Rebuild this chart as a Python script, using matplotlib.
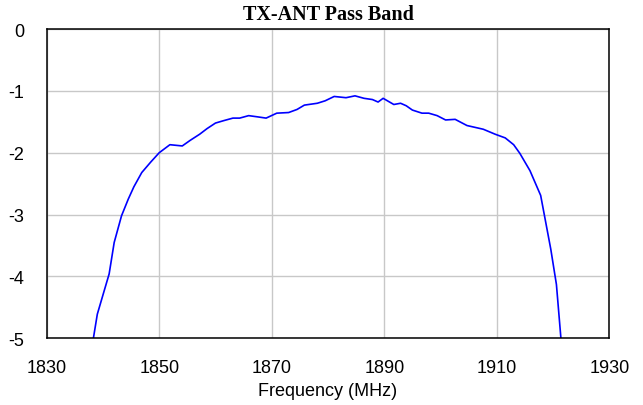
import matplotlib.pyplot as plt

plt.rcParams['axes.unicode_minus'] = False

freq = [1838.3, 1839.0, 1840.0, 1841.1, 1842.0, 1843.3, 1844.5, 1845.5, 1846.9,
        1848.5, 1850.0, 1851.9, 1853.0, 1854.1, 1855.5, 1857.2, 1858.5, 1860.0,
        1861.5, 1863.1, 1864.3, 1865.9, 1867.5, 1869.0, 1870.9, 1873.0, 1874.5,
        1875.8, 1878.1, 1879.5, 1881.1, 1883.2, 1884.8, 1886.4, 1887.9, 1888.9,
        1889.8, 1891.7, 1892.9, 1893.9, 1895.0, 1896.7, 1897.9, 1899.4, 1900.9,
        1902.6, 1904.7, 1907.6, 1909.7, 1911.5, 1913.0, 1914.1, 1915.9, 1917.8,
        1919.6, 1920.6, 1921.4]
loss = [-5.0, -4.61, -4.3, -3.96, -3.45, -3.02, -2.75, -2.55, -2.32,
        -2.15, -2.0, -1.87, -1.88, -1.89, -1.80, -1.70, -1.61, -1.52,
        -1.48, -1.44, -1.44, -1.40, -1.42, -1.44, -1.36, -1.35, -1.30,
        -1.23, -1.20, -1.16, -1.09, -1.11, -1.08, -1.12, -1.14, -1.18,
        -1.12, -1.22, -1.20, -1.24, -1.31, -1.36, -1.36, -1.40, -1.47,
        -1.46, -1.56, -1.62, -1.70, -1.76, -1.87, -2.01, -2.29, -2.69,
        -3.56, -4.13, -5.0]

fig = plt.figure(figsize=(6.43, 4.06), dpi=100)
ax = fig.add_axes([0.0726, 0.1643, 0.875, 0.7617])
ax.plot(freq, loss, color='#0000ff', lw=1.2)
ax.set_xlim(1830, 1930)
ax.set_ylim(-5, 0)
ax.set_xticks(range(1830, 1931, 20))
ax.set_yticks(range(-5, 1))
ax.grid(color='#c8c8c8', lw=1.0)
ax.set_axisbelow(True)
ax.tick_params(length=0, labelsize=13)
ax.tick_params(axis='x', pad=15)
ax.tick_params(axis='y', pad=16)
for lab in ax.get_xticklabels() + ax.get_yticklabels():
    lab.set_family('Liberation Sans')
for s in ax.spines.values():
    s.set_color('black'); s.set_linewidth(1.1)
ax.set_xlabel('Frequency (MHz)', fontsize=13, family='Liberation Sans', labelpad=4)
ax.set_title('TX-ANT Pass Band', fontsize=14.5, fontweight='bold', family='Liberation Serif', pad=7)
fig.savefig('out.png')
